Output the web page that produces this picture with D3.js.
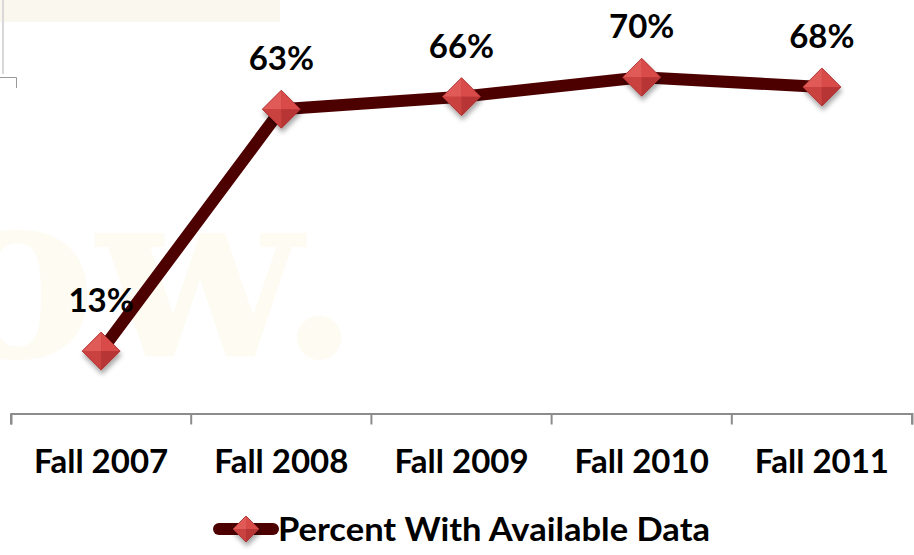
<!DOCTYPE html>
<html lang="en">
<head>
  <meta charset="UTF-8" />
  <title>Percent With Available Data</title>
  <script src="https://d3js.org/d3.v7.min.js"></script>
  <style>
    body { margin: 0; background: #fff; }
    svg { display: block; font-family: Lato, "Open Sans", sans-serif; }
    .lbl { font-weight: bold; font-size: 33px; fill: #000; }
  </style>
</head>
<body>
  <svg id="chart"></svg>
  <script>
    // data
    const terms   = ["Fall 2007", "Fall 2008", "Fall 2009", "Fall 2010", "Fall 2011"];
    const pct     = [13, 63, 65.6, 69.6, 67.6];
    const pctText = ["13%", "63%", "66%", "70%", "68%"];
    const seriesName = "Percent With Available Data";

    const W = 914, H = 555;
    const svg = d3.select("#chart").attr("width", W).attr("height", H);

    const defs = svg.append("defs");
    const sh = defs.append("filter").attr("id", "shadow")
      .attr("x", "-50%").attr("y", "-50%").attr("width", "200%").attr("height", "200%");
    sh.append("feDropShadow").attr("dx", 1).attr("dy", 4).attr("stdDeviation", 2.5)
      .attr("flood-color", "#000").attr("flood-opacity", 0.35);

    // faint background bits (slide remnants)
    svg.append("rect").attr("x", 0).attr("y", 0).attr("width", 280).attr("height", 22)
      .attr("fill", "#faf7ee");
    svg.append("line").attr("x1", 3).attr("x2", 3).attr("y1", 0).attr("y2", 74)
      .attr("stroke", "#d8d8d8").attr("stroke-width", 2);
    svg.append("path").attr("d", "M0,77.5H16.5V88").attr("fill", "none")
      .attr("stroke", "#999").attr("stroke-width", 1);
    svg.append("text").attr("x", -62).attr("y", 357)
      .attr("font-family", "'DejaVu Serif', 'Liberation Serif', serif")
      .attr("font-weight", "bold").attr("font-size", 238)
      .attr("fill", "#fdfbf2").text("ow.");

    const x = d3.scaleBand().domain(terms).range([11, 912]).padding(0);
    const y = d3.scaleLinear().domain([0, 80]).range([414, 27]);
    const cx = d => x(d) + x.bandwidth() / 2;

    // x axis with ticks pointing down between categories
    const xAxis = svg.append("g").attr("transform", "translate(0,413.5)")
      .call(d3.axisBottom(x).tickSizeOuter(11).tickFormat(""));
    xAxis.select(".domain").attr("stroke", "#8c8c8c").attr("stroke-width", 2);
    xAxis.selectAll(".tick").remove();
    const edges = terms.map(d => x(d)).concat([x(terms[terms.length - 1]) + x.bandwidth()]);
    xAxis.selectAll(".sep").data(edges).enter().append("line")
      .attr("class", "sep")
      .attr("x1", d => d).attr("x2", d => d)
      .attr("y1", 0).attr("y2", 11)
      .attr("stroke", "#8c8c8c").attr("stroke-width", 2);

    svg.selectAll(".xl").data(terms).enter().append("text")
      .attr("class", "lbl")
      .attr("x", d => cx(d)).attr("y", 473)
      .attr("text-anchor", "middle").text(d => d);

    const pts = terms.map((t, i) => ({ t, v: pct[i], s: pctText[i] }));

    svg.append("path").datum(pts)
      .attr("fill", "none").attr("stroke", "#4d0000").attr("stroke-width", 12)
      .attr("stroke-linejoin", "round")
      .attr("d", d3.line().x(d => cx(d.t)).y(d => y(d.v)));

    function diamond(g, r) {
      g.attr("filter", "url(#shadow)");
      g.append("path").attr("d", `M0,${-r}L${r},0L0,${r}L${-r},0Z`).attr("fill", "#c83e3e");
      g.append("path").attr("d", `M0,${-r}L${-r},0L0,0Z`).attr("fill", "#e05a58");
      g.append("path").attr("d", `M0,${-r}L${r},0L0,0Z`).attr("fill", "#d84c4a");
      g.append("path").attr("d", `M${-r},0L0,${r}L0,0Z`).attr("fill", "#c94341");
      g.append("path").attr("d", `M${r},0L0,${r}L0,0Z`).attr("fill", "#b83634");
      g.append("path").attr("d", `M0,${-r}L${r},0L0,${r}L${-r},0Z`)
        .attr("fill", "none").attr("stroke", "#a83030").attr("stroke-width", 0.8);
    }

    svg.selectAll(".mk").data(pts).enter().append("g")
      .attr("class", "mk")
      .attr("transform", d => `translate(${cx(d.t)},${y(d.v)})`)
      .each(function () { diamond(d3.select(this), 19); });

    svg.selectAll(".vl").data(pts).enter().append("text")
      .attr("class", "lbl")
      .attr("x", d => cx(d.t)).attr("y", d => y(d.v) - 39)
      .attr("text-anchor", "middle").text(d => d.s);

    // legend
    const lg = svg.append("g").attr("transform", "translate(0,529)");
    lg.append("line").attr("x1", 219).attr("x2", 273).attr("y1", 0).attr("y2", 0)
      .attr("stroke", "#4d0000").attr("stroke-width", 12).attr("stroke-linecap", "round");
    diamond(lg.append("g").attr("transform", "translate(246,0)"), 13);
    lg.append("text").attr("class", "lbl").attr("x", 278).attr("y", 12)
      .attr("textLength", 432).attr("lengthAdjust", "spacingAndGlyphs")
      .style("font-size", "33px").text(seriesName);
  </script>
</body>
</html>
